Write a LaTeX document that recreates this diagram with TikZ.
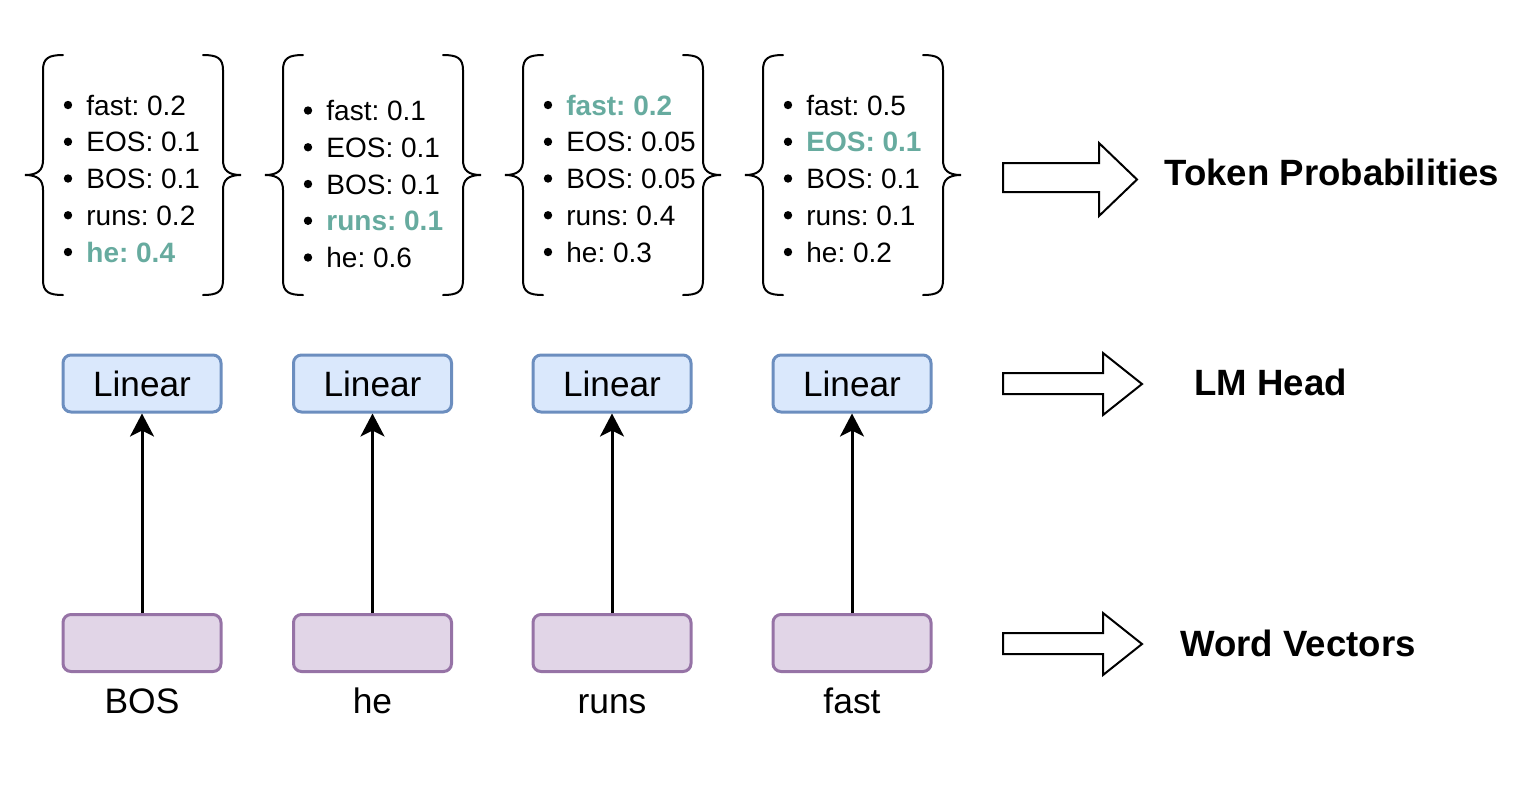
\documentclass[tikz,border=0pt]{standalone}
\usepackage{fontspec}
\setmainfont{Liberation Sans}
\usetikzlibrary{arrows.meta}
\frenchspacing
\definecolor{linfill}{HTML}{DAE8FC}
\definecolor{lindraw}{HTML}{6C8EBF}
\definecolor{vecfill}{HTML}{E1D5E7}
\definecolor{vecdraw}{HTML}{9673A6}
\definecolor{hl}{HTML}{67AB9F}
\newcommand\pitem[4]{%
  \fill (#2-18,#3-10) circle (2.1pt);
  \node[pitemtext] (#1) at (#2,#3) {#4};}
\newcommand\hlt[1]{{\bfseries\color{hl}#1}}
\newcommand\bracepair[1]{%
  \begin{scope}[shift={(#1,0)}]
    \draw[bracestyle] (63,55) .. controls (49,55) and (43,58) .. (43,70) -- (43,160)
      .. controls (43,170) and (38,175) .. (25,175)
      .. controls (38,175) and (43,180) .. (43,190) -- (43,280)
      .. controls (43,292) and (49,295) .. (63,295);
    \draw[bracestyle] (203,55) .. controls (217,55) and (223,58) .. (223,70) -- (223,160)
      .. controls (223,170) and (228,175) .. (241,175)
      .. controls (228,175) and (223,180) .. (223,190) -- (223,280)
      .. controls (223,292) and (217,295) .. (203,295);
  \end{scope}}
\begin{document}
\begin{tikzpicture}[x=0.5pt,y=-0.5pt,
  linbox/.style={draw=lindraw, fill=linfill, line width=1.5pt, rounded corners=4pt,
    minimum width=79pt, minimum height=28.5pt, inner sep=0pt,
    font=\fontsize{17.6}{20}\selectfont},
  vecbox/.style={draw=vecdraw, fill=vecfill, line width=1.5pt, rounded corners=4pt,
    minimum width=79pt, minimum height=28.5pt, inner sep=0pt},
  wordlbl/.style={anchor=base, inner sep=0pt, font=\fontsize{17.7}{20}\selectfont},
  pitemtext/.style={anchor=base west, inner sep=0pt, font=\fontsize{14}{16}\selectfont},
  sidelbl/.style={anchor=base west, inner sep=0pt, font=\fontsize{18.3}{21}\selectfont\bfseries},
  bracestyle/.style={line width=1pt, line cap=round},
  conn/.style={line width=1.5pt, -{Stealth[length=11.5pt, width=12pt, inset=3pt]}},
  hollow/.style={draw, line width=1pt, fill=white, line join=miter}
]
\useasboundingbox (0,0) rectangle (1538,784);

% braces
\bracepair{0}
\bracepair{240}
\bracepair{480}
\bracepair{720}

% column 1
\pitem{a1}{86}{115}{fast: 0.2}
\pitem{a2}{86}{151.75}{EOS: 0.1}
\pitem{a3}{86}{188.5}{BOS: 0.1}
\pitem{a4}{86}{225.25}{runs: 0.2}
\pitem{a5}{86}{262}{\hlt{he: 0.4}}
% column 2
\pitem{b1}{326}{120.5}{fast: 0.1}
\pitem{b2}{326}{157.25}{EOS: 0.1}
\pitem{b3}{326}{194}{BOS: 0.1}
\pitem{b4}{326}{230.75}{\hlt{runs: 0.1}}
\pitem{b5}{326}{267.5}{he: 0.6}
% column 3
\pitem{c1}{566}{115}{\hlt{fast: 0.2}}
\pitem{c2}{566}{151.75}{EOS: 0.05}
\pitem{c3}{566}{188.5}{BOS: 0.05}
\pitem{c4}{566}{225.25}{runs: 0.4}
\pitem{c5}{566}{262}{he: 0.3}
% column 4
\pitem{d1}{806}{115}{fast: 0.5}
\pitem{d2}{806}{151.75}{\hlt{EOS: 0.1}}
\pitem{d3}{806}{188.5}{BOS: 0.1}
\pitem{d4}{806}{225.25}{runs: 0.1}
\pitem{d5}{806}{262}{he: 0.2}

% Linear boxes
\node[linbox] (l1) at (142,383.5) {Linear};
\node[linbox] (l2) at (372.5,383.5) {Linear};
\node[linbox] (l3) at (612,383.5) {Linear};
\node[linbox] (l4) at (852,383.5) {Linear};

% word vector boxes
\node[vecbox] (w1) at (142,643) {};
\node[vecbox] (w2) at (372.5,643) {};
\node[vecbox] (w3) at (612,643) {};
\node[vecbox] (w4) at (852,643) {};

% word labels
\node[wordlbl] (t1) at (142,713) {BOS};
\node[wordlbl] (t2) at (372.5,713) {he};
\node[wordlbl] (t3) at (612,713) {runs};
\node[wordlbl] (t4) at (852,713) {fast};

% connectors
\draw[conn] (w1.north) -- (l1.south);
\draw[conn] (w2.north) -- (l2.south);
\draw[conn] (w3.north) -- (l3.south);
\draw[conn] (w4.north) -- (l4.south);

% hollow arrows
\draw[hollow] (1003,163) -- (1099,163) -- (1099,143) -- (1137,179.5) -- (1099,216) -- (1099,192) -- (1003,192) -- cycle;
\draw[hollow] (1003,373) -- (1103,373) -- (1103,353) -- (1142,384) -- (1103,415) -- (1103,394) -- (1003,394) -- cycle;
\draw[hollow] (1003,633) -- (1103,633) -- (1103,613) -- (1142,644) -- (1103,675) -- (1103,654) -- (1003,654) -- cycle;

% side labels
\node[sidelbl] (s1) at (1164,185) {Token Probabilities};
\node[sidelbl] (s2) at (1194,395) {LM Head};
\node[sidelbl] (s3) at (1180,656) {Word Vectors};
\end{tikzpicture}
\end{document}
